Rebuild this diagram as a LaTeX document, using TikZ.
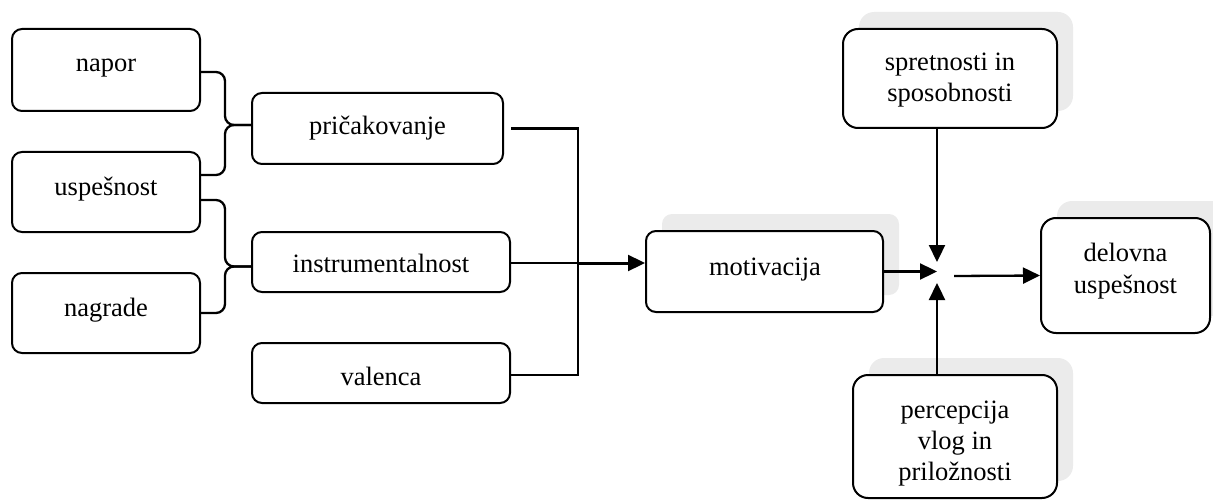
\documentclass[tikz,border=0pt]{standalone}
\usepackage{fontspec}
\setmainfont{Liberation Serif}
\usetikzlibrary{arrows.meta,calc}
\definecolor{shade}{RGB}{235,235,235}
\begin{document}
\begin{tikzpicture}[x=1pt,y=-1pt,
  sz/.style 2 args={minimum width=#1, minimum height=#2},
  box/.style={draw=black, line width=2pt, fill=white, rounded corners=10pt, inner sep=0pt},
  tallbox/.style={box, rounded corners=15pt},
  shadowbox/.style={fill=shade, draw=none, rounded corners=15pt, inner sep=0pt},
  txt/.style={anchor=base, inner sep=0pt, font=\fontsize{26.5}{31}\selectfont},
  conn/.style={line width=2.3pt},
  flow/.style={conn, -{Triangle[length=17pt,width=16pt]}},
  brace/.style={conn, rounded corners=9pt}]
\useasboundingbox (0,0) rectangle (1213,500);

% soft shadows behind the right-hand boxes
\node[shadowbox, sz={237}{81}, rounded corners=10pt] (motivS) at (780.5,254.5) {};
\node[shadowbox, sz={214}{99}] (spretS) at (966,61.5) {};
\node[shadowbox, sz={169}{115}] (deloS) at (1141.5,258.5) {};
\node[shadowbox, sz={204}{123}] (percS) at (971,419.5) {};

% left column
\node[box, sz={188}{82}] (napor) at (106,70) {};
\node[box, sz={188}{80}] (usp)   at (106,192) {};
\node[box, sz={188}{80}] (nagr)  at (106,313) {};
\node[txt] (naporT) at (106,72)  {napor};
\node[txt] (uspT)   at (106,195) {uspešnost};
\node[txt] (nagrT)  at (106,316) {nagrade};

% middle column
\node[box, sz={251}{71}] (pric)  at (377.5,128.5) {};
\node[box, sz={258}{60}] (instr) at (381,262) {};
\node[box, sz={258}{60}] (val)   at (381,373) {};
\node[txt] (pricT)  at (377.5,135) {pričakovanje};
\node[txt] (instrT) at (381,272)   {instrumentalnost};
\node[txt] (valT)   at (381,385)   {valenca};

% right part
\node[box, sz={237}{81}] (motiv) at (764.5,271.5) {};
\node[txt] (motivT) at (765,275) {motivacija};

\node[tallbox, sz={214}{99}] (spret) at (950,78.5) {};
\node[txt] (spretT1) at (950,71) {spretnosti in};
\node[txt] (spretT2) at (950,102) {sposobnosti};

\node[tallbox, sz={169}{115}] (delo) at (1125.5,275.5) {};
\node[txt] (deloT1) at (1125.5,261) {delovna};
\node[txt] (deloT2) at (1125.5,293) {uspešnost};

\node[tallbox, sz={204}{123}] (perc) at (955,436.5) {};
\node[txt] (percT1) at (955,418) {percepcija};
\node[txt] (percT2) at (955,449) {vlog in};
\node[txt] (percT3) at (955,480) {priložnosti};

% braces joining the left column to the middle column
\draw[brace] ($(napor.east)+(0,2)$) -| ($(pric.west)+(-26,-3.5)$) -- ($(pric.west)+(0,-3.5)$);
\draw[brace] ($(usp.east)+(0,-17)$) -| ($(pric.west)+(-26,-3.5)$) -- ($(pric.west)+(0,-3.5)$);
\draw[brace] ($(usp.east)+(0,8)$) -| ($(instr.west)+(-26,4.5)$) -- ($(instr.west)+(0,4.5)$);
\draw[brace] (nagr.east) -| ($(instr.west)+(-26,4.5)$) -- ($(instr.west)+(0,4.5)$);

% the three factors merge into motivation
\coordinate (bus) at (578,263);
\draw[conn] ($(pric.east)+(7,0)$) -| (bus);
\draw[conn] ($(val.east)+(0,2)$) -| (bus);
\draw[flow] ($(instr.east)+(0,1)$) -- ($(instr.east -| motiv.west)+(0,1)$);
\draw[line width=3pt] (bus) -- ($(bus)+(52,0)$);

% everything meets in one point before performance
\coordinate (hub) at (937,274);
\draw[flow] (motiv.east) -- (motiv.east -| hub);
\draw[flow] (spret.south -| hub) -- ($(hub)+(0,-12)$);
\draw[flow] (perc.north -| hub) -- ($(hub)+(0,9)$);
\draw[flow] ($(hub)+(17,2)$) -- (delo.west);
\end{tikzpicture}
\end{document}
